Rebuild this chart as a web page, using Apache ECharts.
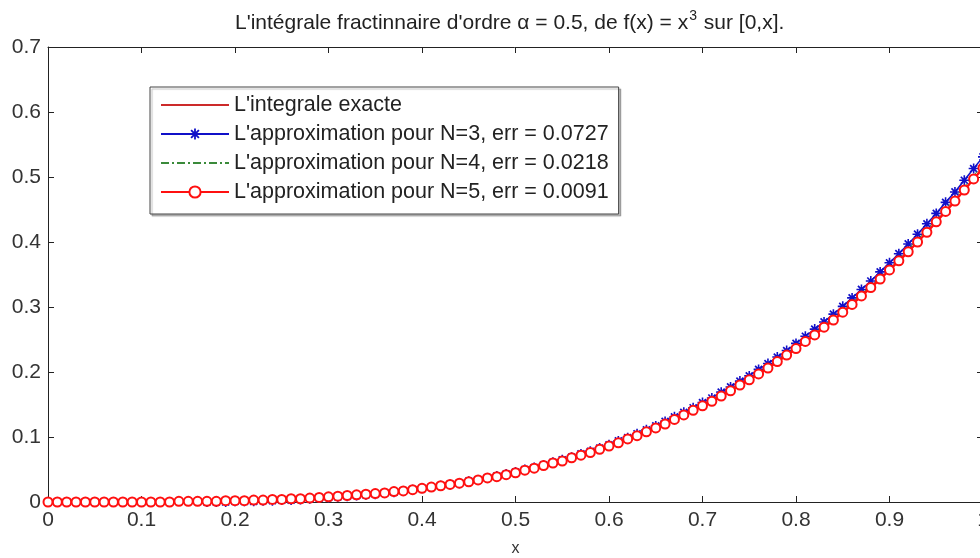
<!DOCTYPE html>
<html>
<head>
<meta charset="utf-8">
<script src="https://cdn.jsdelivr.net/npm/echarts@6/dist/echarts.min.js"></script>
<style>
  html, body { margin: 0; padding: 0; background: #fff; }
  #chart { width: 980px; height: 558px; }
</style>
</head>
<body>
<div id="chart"></div>
<script>
// abscisses x sur [0,1]
const xs = [
  0.00, 0.01, 0.02, 0.03, 0.04, 0.05, 0.06, 0.07, 0.08, 0.09,
  0.10, 0.11, 0.12, 0.13, 0.14, 0.15, 0.16, 0.17, 0.18, 0.19,
  0.20, 0.21, 0.22, 0.23, 0.24, 0.25, 0.26, 0.27, 0.28, 0.29,
  0.30, 0.31, 0.32, 0.33, 0.34, 0.35, 0.36, 0.37, 0.38, 0.39,
  0.40, 0.41, 0.42, 0.43, 0.44, 0.45, 0.46, 0.47, 0.48, 0.49,
  0.50, 0.51, 0.52, 0.53, 0.54, 0.55, 0.56, 0.57, 0.58, 0.59,
  0.60, 0.61, 0.62, 0.63, 0.64, 0.65, 0.66, 0.67, 0.68, 0.69,
  0.70, 0.71, 0.72, 0.73, 0.74, 0.75, 0.76, 0.77, 0.78, 0.79,
  0.80, 0.81, 0.82, 0.83, 0.84, 0.85, 0.86, 0.87, 0.88, 0.89,
  0.90, 0.91, 0.92, 0.93, 0.94, 0.95, 0.96, 0.97, 0.98, 0.99,
  1.00
];

// L'integrale exacte
const exacte = [
  0, 0, 0, 0, 0, 0, 0, 0, 0.0001, 0.0001,
  0.0002, 0.0002, 0.0003, 0.0004, 0.0005, 0.0007, 0.0008, 0.0010, 0.0013, 0.0015,
  0.0018, 0.0022, 0.0026, 0.0030, 0.0035, 0.0040, 0.0046, 0.0053, 0.0060, 0.0068,
  0.0076, 0.0086, 0.0096, 0.0106, 0.0118, 0.0131, 0.0144, 0.0159, 0.0174, 0.0191,
  0.0209, 0.0228, 0.0248, 0.0269, 0.0291, 0.0315, 0.0340, 0.0367, 0.0395, 0.0425,
  0.0456, 0.0489, 0.0523, 0.0559, 0.0597, 0.0636, 0.0678, 0.0721, 0.0766, 0.0814,
  0.0863, 0.0914, 0.0968, 0.1024, 0.1082, 0.1142, 0.1205, 0.1270, 0.1337, 0.1408,
  0.1480, 0.1556, 0.1634, 0.1714, 0.1798, 0.1884, 0.1974, 0.2066, 0.2162, 0.2260,
  0.2362, 0.2467, 0.2575, 0.2687, 0.2802, 0.2921, 0.3043, 0.3168, 0.3297, 0.3430,
  0.3567, 0.3708, 0.3853, 0.4001, 0.4153, 0.4310, 0.4471, 0.4636, 0.4806, 0.4980,
  0.5158
];

// approximation N=3
const approxN3 = [
  0.000, 0.000, 0.000, 0.000, 0.000, -0.001, -0.001, -0.001, -0.001, -0.001,
  -0.001, -0.001, -0.001, -0.001, -0.001, -0.001, -0.001, 0.000, 0.000, 0.000,
  0.001, 0.001, 0.001, 0.002, 0.002, 0.003, 0.003, 0.004, 0.005, 0.006,
  0.007, 0.008, 0.009, 0.010, 0.011, 0.012, 0.014, 0.015, 0.017, 0.019,
  0.021, 0.023, 0.025, 0.027, 0.029, 0.032, 0.034, 0.037, 0.040, 0.043,
  0.046, 0.050, 0.053, 0.057, 0.061, 0.065, 0.069, 0.074, 0.078, 0.083,
  0.088, 0.094, 0.099, 0.105, 0.111, 0.117, 0.124, 0.131, 0.138, 0.145,
  0.153, 0.160, 0.169, 0.177, 0.186, 0.194, 0.204, 0.213, 0.223, 0.233,
  0.244, 0.255, 0.266, 0.277, 0.289, 0.301, 0.314, 0.327, 0.340, 0.354,
  0.368, 0.382, 0.397, 0.412, 0.428, 0.444, 0.461, 0.477, 0.495, 0.513,
  0.531
];

// approximation N=4
const approxN4 = [
  0.000, 0.000, 0.000, 0.000, 0.000, 0.000, 0.000, 0.000, 0.000, 0.000,
  0.000, 0.000, 0.000, 0.000, 0.000, 0.001, 0.001, 0.001, 0.001, 0.002,
  0.002, 0.002, 0.003, 0.003, 0.003, 0.004, 0.005, 0.005, 0.006, 0.007,
  0.008, 0.009, 0.010, 0.011, 0.012, 0.013, 0.014, 0.016, 0.017, 0.019,
  0.021, 0.023, 0.025, 0.027, 0.029, 0.032, 0.034, 0.037, 0.040, 0.043,
  0.046, 0.049, 0.053, 0.056, 0.060, 0.064, 0.068, 0.073, 0.077, 0.082,
  0.087, 0.092, 0.097, 0.103, 0.109, 0.115, 0.121, 0.128, 0.135, 0.142,
  0.149, 0.157, 0.165, 0.173, 0.181, 0.190, 0.199, 0.208, 0.218, 0.228,
  0.238, 0.249, 0.260, 0.271, 0.283, 0.295, 0.307, 0.320, 0.333, 0.346,
  0.360, 0.374, 0.389, 0.404, 0.419, 0.435, 0.451, 0.468, 0.485, 0.502,
  0.520
];

// approximation N=5
const approxN5 = [
  0.000, 0.000, 0.000, 0.000, 0.000, 0.000, 0.000, 0.000, 0.000, 0.000,
  0.000, 0.000, 0.000, 0.000, 0.001, 0.001, 0.001, 0.001, 0.001, 0.002,
  0.002, 0.002, 0.003, 0.003, 0.004, 0.004, 0.005, 0.005, 0.006, 0.007,
  0.008, 0.009, 0.010, 0.011, 0.012, 0.013, 0.014, 0.016, 0.017, 0.019,
  0.021, 0.023, 0.025, 0.027, 0.029, 0.031, 0.034, 0.037, 0.039, 0.042,
  0.045, 0.049, 0.052, 0.056, 0.060, 0.063, 0.068, 0.072, 0.076, 0.081,
  0.086, 0.091, 0.097, 0.102, 0.108, 0.114, 0.120, 0.127, 0.134, 0.141,
  0.148, 0.155, 0.163, 0.171, 0.180, 0.188, 0.197, 0.206, 0.216, 0.226,
  0.236, 0.247, 0.257, 0.269, 0.280, 0.292, 0.304, 0.317, 0.330, 0.343,
  0.357, 0.371, 0.385, 0.400, 0.415, 0.431, 0.447, 0.463, 0.480, 0.497,
  0.514
];

const legendNames = [
  "L'integrale exacte",
  "L'approximation pour N=3, err = 0.0727",
  "L'approximation pour N=4, err = 0.0218",
  "L'approximation pour N=5, err = 0.0091"
];

const font = "'Liberation Sans', Arial, sans-serif";
const pairs = (arr) => xs.map((x, i) => [x, arr[i]]);

// asterisque type matlab '*'
const star = 'path://M-5,-0.8L5,-0.8L5,0.8L-5,0.8Z' +
  'M-0.8,-5L0.8,-5L0.8,5L-0.8,5Z' +
  'M-4.1,-2.9L-2.9,-4.1L4.1,2.9L2.9,4.1Z' +
  'M-4.1,2.9L2.9,-4.1L4.1,-2.9L-2.9,4.1Z';

const chart = echarts.init(document.getElementById('chart'), null, { renderer: 'canvas' });

// axe commun (bordure type matlab)
const axisBase = {
  type: 'value',
  axisLine: { show: true, onZero: false, lineStyle: { color: '#222', width: 1 } },
  axisTick: { show: true, inside: true, length: 6, lineStyle: { color: '#222' } },
  splitLine: { show: false }
};

const option = {
  animation: false,
  backgroundColor: '#fff',
  title: {
    text: "{n|L'intégrale fractinnaire d'ordre α = 0.5, de f(x) = x}{s|3}{n| sur [0,x].}",
    left: 230,
    top: 4,
    textStyle: {
      rich: {
        n: { fontFamily: font, fontSize: 21, fontWeight: 'normal', color: '#222', lineHeight: 28 },
        s: { fontFamily: font, fontSize: 14, fontWeight: 'normal', color: '#222', lineHeight: 14, padding: [0, 1, 14, 1] }
      }
    }
  },
  grid: { left: 48, top: 47, right: -3, bottom: 56, containLabel: false, outerBoundsMode: 'none' },
  legend: {
    orient: 'vertical',
    left: 150,
    top: 87,
    data: legendNames,
    padding: [7, 10, 11, 10],
    itemWidth: 68,
    itemHeight: 14,
    itemGap: 7,
    backgroundColor: '#fff',
    borderColor: '#444',
    borderWidth: 1,
    shadowColor: 'rgba(0,0,0,0.25)',
    shadowOffsetX: 2,
    shadowOffsetY: 2,
    shadowBlur: 1,
    textStyle: { fontFamily: font, fontSize: 21.5, color: '#222' }
  },
  xAxis: [
    Object.assign({}, axisBase, {
      min: 0, max: 1, interval: 0.1,
      position: 'bottom',
      name: 'x',
      nameLocation: 'middle',
      nameGap: 39,
      nameMoveOverlap: false,
      nameTextStyle: { fontFamily: font, fontSize: 16, color: '#333' },
      axisLabel: { fontFamily: font, fontSize: 21, color: '#333', margin: 8 }
    }),
    Object.assign({}, axisBase, {
      min: 0, max: 1, interval: 0.1,
      position: 'top',
      axisLabel: { show: false }
    })
  ],
  yAxis: [
    Object.assign({}, axisBase, {
      min: 0, max: 0.7, interval: 0.1,
      position: 'left',
      axisLabel: { fontFamily: font, fontSize: 21, color: '#333', margin: 7 }
    }),
    Object.assign({}, axisBase, {
      min: 0, max: 0.7, interval: 0.1,
      position: 'right',
      axisLabel: { show: false }
    })
  ],
  series: [
    {
      name: legendNames[0],
      type: 'line',
      data: pairs(exacte),
      showSymbol: false,
      lineStyle: { color: '#cc2a2a', width: 1 },
      itemStyle: { color: '#cc2a2a', opacity: 0 },
      z: 2
    },
    {
      name: legendNames[1],
      type: 'line',
      data: pairs(approxN3),
      symbol: star,
      symbolSize: 10,
      lineStyle: { color: '#1010c8', width: 1.5 },
      itemStyle: { color: '#1010c8' },
      z: 3
    },
    {
      name: legendNames[2],
      type: 'line',
      data: pairs(approxN4),
      showSymbol: false,
      lineStyle: { color: '#3a8a3a', width: 1, type: [8, 3, 2, 3] },
      itemStyle: { color: '#3a8a3a', opacity: 0 },
      z: 4
    },
    {
      name: legendNames[3],
      type: 'line',
      data: pairs(approxN5),
      symbol: 'emptyCircle',
      symbolSize: 9,
      lineStyle: { color: '#ff1010', width: 2.5 },
      itemStyle: { color: '#ff1010', borderColor: '#e01010', borderWidth: 1.5 },
      z: 5
    }
  ]
};

chart.setOption(option);
</script>
</body>
</html>
